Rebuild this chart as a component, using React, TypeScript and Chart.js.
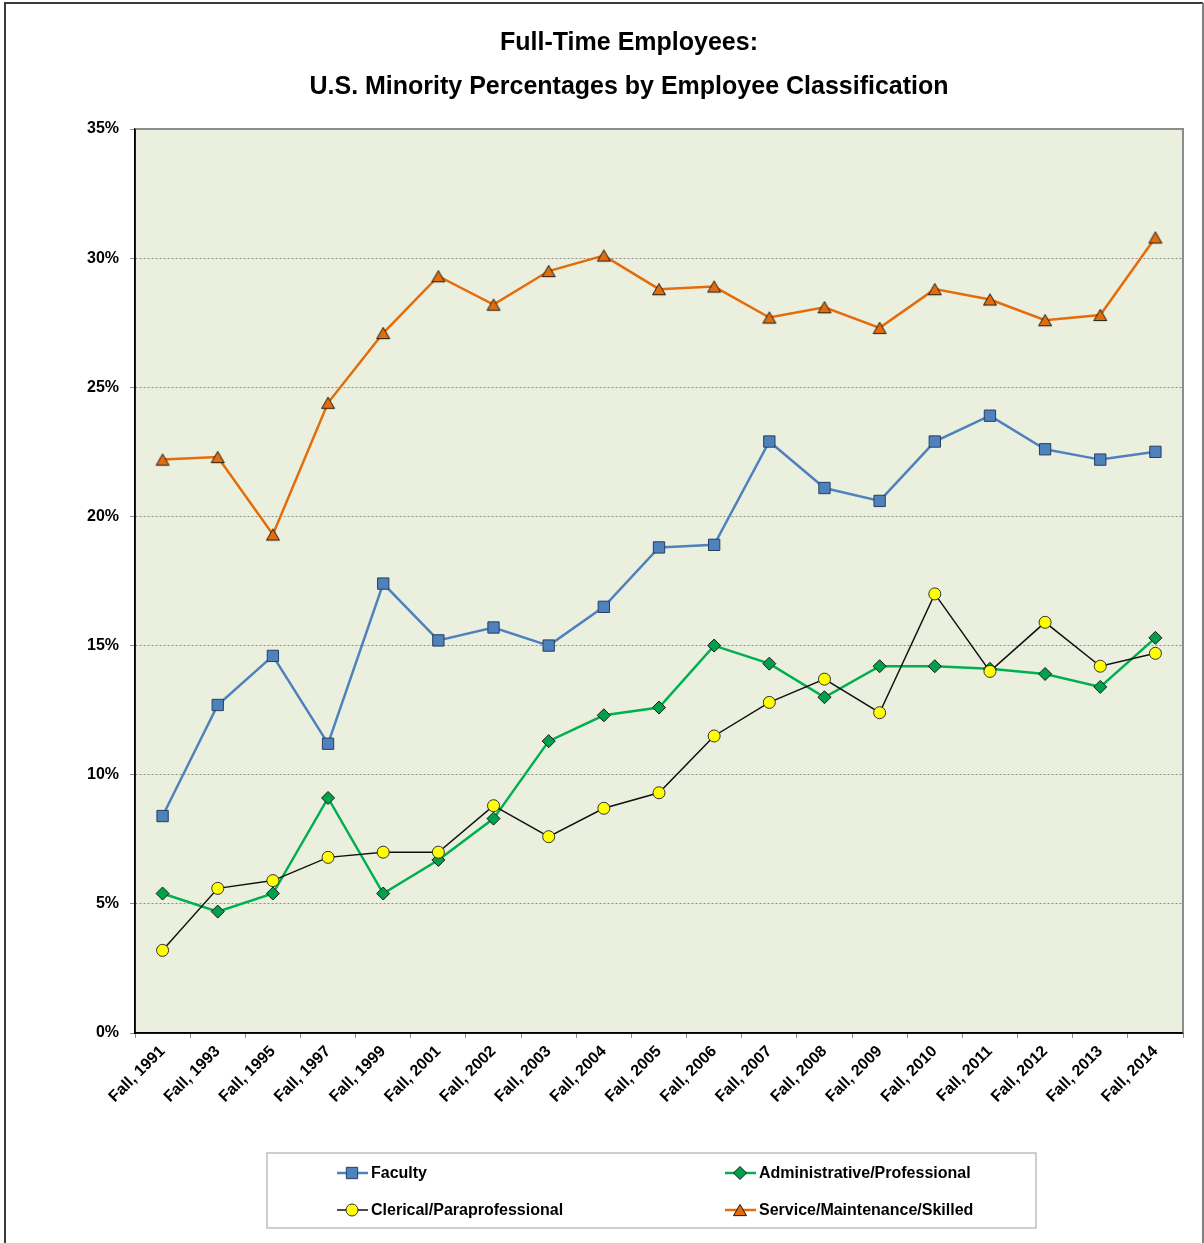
import React, { useEffect, useRef } from "react";
import { Chart, registerables } from "chart.js";

Chart.register(...registerables);

const categories = [
  "Fall, 1991", "Fall, 1993", "Fall, 1995", "Fall, 1997", "Fall, 1999", "Fall, 2001",
  "Fall, 2002", "Fall, 2003", "Fall, 2004", "Fall, 2005", "Fall, 2006", "Fall, 2007",
  "Fall, 2008", "Fall, 2009", "Fall, 2010", "Fall, 2011", "Fall, 2012", "Fall, 2013", "Fall, 2014",
];

const faculty = [8.4, 12.7, 14.6, 11.2, 17.4, 15.2, 15.7, 15.0, 16.5, 18.8, 18.9, 22.9, 21.1, 20.6, 22.9, 23.9, 22.6, 22.2, 22.5];
const administrative = [5.4, 4.7, 5.4, 9.1, 5.4, 6.7, 8.3, 11.3, 12.3, 12.6, 15.0, 14.3, 13.0, 14.2, 14.2, 14.1, 13.9, 13.4, 15.3];
const clerical = [3.2, 5.6, 5.9, 6.8, 7.0, 7.0, 8.8, 7.6, 8.7, 9.3, 11.5, 12.8, 13.7, 12.4, 17.0, 14.0, 15.9, 14.2, 14.7];
const service = [22.2, 22.3, 19.3, 24.4, 27.1, 29.3, 28.2, 29.5, 30.1, 28.8, 28.9, 27.7, 28.1, 27.3, 28.8, 28.4, 27.6, 27.8, 30.8];

const titleLines = ["Full-Time Employees:", "U.S. Minority Percentages by Employee Classification"];
const seriesNames = ["Faculty", "Administrative/Professional", "Clerical/Paraprofessional", "Service/Maintenance/Skilled"];

const FONT = '"Liberation Sans", Arial, sans-serif';

const styles = [
  { line: "#4F81BD", fill: "#4F81BD", border: "#243F60", shape: "rect", radius: 8, width: 2.5 },
  { line: "#00B050", fill: "#00A04C", border: "#1A1A1A", shape: "rectRot", radius: 6.5, width: 2.5 },
  { line: "#111111", fill: "#FFFF00", border: "#333333", shape: "circle", radius: 6, width: 1.5 },
  { line: "#E46C0A", fill: "#E46C0A", border: "#1A1A1A", shape: "triangle", radius: 7.5, width: 2.5 },
];

function drawMarker(ctx: CanvasRenderingContext2D, shape: string, x: number, y: number, r: number) {
  ctx.beginPath();
  if (shape === "rect") {
    const s = Math.SQRT1_2 * r;
    ctx.rect(x - s, y - s, 2 * s, 2 * s);
  } else if (shape === "rectRot") {
    ctx.moveTo(x - r, y);
    ctx.lineTo(x, y - r);
    ctx.lineTo(x + r, y);
    ctx.lineTo(x, y + r);
    ctx.closePath();
  } else if (shape === "circle") {
    ctx.arc(x, y, r, 0, Math.PI * 2);
  } else {
    // triangle centred on its bounding box
    const cy = y + r / 4;
    for (let i = 0; i < 3; i++) {
      const a = (i * 2 * Math.PI) / 3;
      const px = x + Math.sin(a) * r;
      const py = cy - Math.cos(a) * r;
      if (i === 0) ctx.moveTo(px, py);
      else ctx.lineTo(px, py);
    }
    ctx.closePath();
  }
  ctx.fill();
  ctx.stroke();
}

function makeTriangleImage(): HTMLCanvasElement {
  const s = styles[3];
  const size = 20;
  const c = document.createElement("canvas");
  c.width = size;
  c.height = size;
  const ctx = c.getContext("2d")!;
  ctx.fillStyle = s.fill;
  ctx.strokeStyle = s.border;
  ctx.lineWidth = 1;
  drawMarker(ctx, "triangle", size / 2, size / 2, s.radius);
  return c;
}

const decorPlugin = {
  id: "decor",
  beforeDraw(chart: any) {
    const { ctx, chartArea: a } = chart;
    ctx.save();
    ctx.fillStyle = "#FFFFFF";
    ctx.fillRect(0, 0, chart.width, chart.height);
    ctx.fillStyle = "#EBF0DE";
    ctx.fillRect(a.left, a.top, a.right - a.left, a.bottom - a.top);
    ctx.lineWidth = 2;
    ctx.strokeStyle = "#3A3A3A";
    ctx.beginPath();
    ctx.moveTo(5, chart.height + 5);
    ctx.lineTo(5, 3);
    ctx.lineTo(1203, 3);
    ctx.stroke();
    ctx.strokeStyle = "#808080";
    ctx.beginPath();
    ctx.moveTo(1203, 3);
    ctx.lineTo(1203, chart.height + 5);
    ctx.stroke();
    ctx.fillStyle = "#000000";
    ctx.font = `bold 25px ${FONT}`;
    ctx.textAlign = "center";
    ctx.textBaseline = "alphabetic";
    ctx.fillText(titleLines[0], 629, 50);
    ctx.fillText(titleLines[1], 629, 94);
    ctx.restore();
  },
  beforeDatasetsDraw(chart: any) {
    const { ctx, chartArea: a } = chart;
    ctx.save();
    ctx.strokeStyle = "#8C8C8C";
    ctx.lineWidth = 2;
    ctx.beginPath();
    ctx.moveTo(a.left, a.top);
    ctx.lineTo(a.right, a.top);
    ctx.lineTo(a.right, a.bottom);
    ctx.stroke();
    ctx.strokeStyle = "#000000";
    ctx.lineWidth = 1.5;
    ctx.beginPath();
    ctx.moveTo(a.left, a.top);
    ctx.lineTo(a.left, a.bottom);
    ctx.lineTo(a.right, a.bottom);
    ctx.stroke();
    ctx.restore();
  },
  afterDraw(chart: any) {
    const { ctx } = chart;
    ctx.save();
    ctx.strokeStyle = "#BFBFBF";
    ctx.lineWidth = 1.5;
    ctx.strokeRect(267, 1153, 769, 75);
    const pos = [
      { x: 337, y: 1173 },
      { x: 725, y: 1173 },
      { x: 337, y: 1210 },
      { x: 725, y: 1210 },
    ];
    ctx.font = `bold 16px ${FONT}`;
    ctx.textAlign = "left";
    ctx.textBaseline = "middle";
    for (let i = 0; i < 4; i++) {
      const s = styles[i];
      const p = pos[i];
      ctx.strokeStyle = s.line;
      ctx.lineWidth = s.width;
      ctx.beginPath();
      ctx.moveTo(p.x, p.y);
      ctx.lineTo(p.x + 31, p.y);
      ctx.stroke();
      ctx.fillStyle = s.fill;
      ctx.strokeStyle = s.border;
      ctx.lineWidth = 1;
      drawMarker(ctx, s.shape, p.x + 15, p.y, s.radius);
      ctx.fillStyle = "#000000";
      ctx.fillText(seriesNames[i], p.x + 34, p.y + 1);
    }
    ctx.restore();
  },
};

export default function App() {
  const ref = useRef<HTMLCanvasElement>(null);
  useEffect(() => {
    if (!ref.current) return;
    const values = [faculty, administrative, clerical, service];
    const orders = [4, 3, 2, 1];
    const triImg = makeTriangleImage();
    const chart = new Chart(ref.current, {
      type: "line",
      data: {
        labels: categories,
        datasets: values.map((v, i) => ({
          label: seriesNames[i],
          data: v,
          borderColor: styles[i].line,
          borderWidth: styles[i].width,
          backgroundColor: styles[i].fill,
          pointBackgroundColor: styles[i].fill,
          pointBorderColor: styles[i].border,
          pointBorderWidth: 1,
          pointStyle: (i === 3 ? triImg : styles[i].shape) as any,
          pointRadius: styles[i].radius,
          tension: 0,
          fill: false,
          order: orders[i],
        })),
      },
      options: {
        responsive: false,
        animation: false,
        devicePixelRatio: 1,
        layout: { padding: { left: 0, right: 21, top: 129, bottom: 110 } },
        plugins: {
          legend: { display: false },
          title: { display: false },
          tooltip: { enabled: false },
        },
        scales: {
          x: {
            offset: true,
            afterFit: (s: any) => {
              s.height = 100;
            },
            grid: {
              offset: true,
              drawOnChartArea: false,
              drawTicks: true,
              tickLength: 5,
              tickColor: "#8C8C8C",
              tickWidth: 1,
            },
            border: { display: true, color: "#000000", width: 1.5 },
            ticks: {
              minRotation: 45,
              maxRotation: 45,
              autoSkip: false,
              padding: 4,
              color: "#000000",
              font: { family: FONT, size: 16, weight: "bold" },
            },
          },
          y: {
            min: 0,
            max: 35,
            afterFit: (s: any) => {
              s.width = 135;
            },
            grid: {
              color: "#8C8C8C",
              lineWidth: 1,
              drawTicks: true,
              tickLength: 5,
              tickColor: "#8C8C8C",
              tickBorderDash: [],
            },
            border: { display: true, color: "#000000", width: 1.5, dash: [2, 2] },
            ticks: {
              stepSize: 5,
              padding: 11,
              color: "#000000",
              font: { family: FONT, size: 16, weight: "bold" },
              callback: (v: any) => `${v}%`,
            },
          },
        },
      },
      plugins: [decorPlugin],
    });
    return () => chart.destroy();
  }, []);
  return (
    <div style={{ position: "fixed", left: 0, top: 0, width: 1204, height: 1243, background: "#fff" }}>
      <canvas ref={ref} width={1204} height={1243} style={{ width: 1204, height: 1243, display: "block" }} />
    </div>
  );
}
